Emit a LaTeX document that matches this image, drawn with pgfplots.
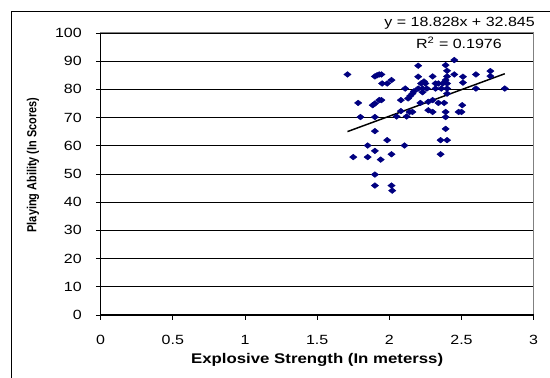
\documentclass[border=0pt]{standalone}
\usepackage{fontspec}
\setmainfont{Liberation Sans}[FakeStretch=1.2]
\newfontfamily\ylabfont{Liberation Sans}
\usepackage{graphicx}
\usepackage{pgfplots}
\pgfplotsset{compat=1.18}
\definecolor{navyblue}{RGB}{0,0,128}
\begin{document}
\fontsize{10pt}{12pt}\selectfont
\begin{tikzpicture}
\useasboundingbox (0,0) rectangle (412.5pt,283.5pt);
\fill[white] (0,0) rectangle (412.5pt,283.5pt);
\draw[black, line width=0.75pt] (8.25pt,0) -- (8.25pt,274.5pt) -- (412.5pt,274.5pt);
\begin{axis}[
  at={(75.5pt,47.25pt)}, anchor=south west,
  scale only axis, width=324.75pt, height=211.5pt,
  xmin=0, xmax=3, ymin=0, ymax=100,
  xtick={0,0.5,1,1.5,2,2.5,3},
  xticklabels={0,0.5,1,1.5,2,2.5,3},
  ytick={0,10,...,100},
  /pgf/number format/assume math mode=true,
  tick align=outside, major tick length=3.5pt,
  xtick pos=lower, ytick pos=left,
  tick style={black, line width=0.6pt},
  ymajorgrids, grid style={black, line width=0.6pt},
  axis line style={gray, line width=0.75pt},
  xticklabel style={inner sep=0pt, anchor=center, yshift=-15pt, font=\fontsize{10pt}{12pt}\selectfont},
  yticklabel style={inner sep=0pt, anchor=east, xshift=-10.5pt, font=\fontsize{10pt}{12pt}\selectfont},
  xlabel={Explosive Strength (In meterss)},
  xlabel style={at={(rel axis cs:0.5,0)}, anchor=center, yshift=-33.75pt, font=\fontsize{10.5pt}{12pt}\selectfont\bfseries},
  ylabel={\scalebox{1}[1.2]{Playing Ability (In Scores)}},
  ylabel style={at={(rel axis cs:0,0.532)}, anchor=center, yshift=50.8pt, font=\ylabfont\fontsize{8.2pt}{10pt}\selectfont\bfseries},
  clip=false,
]
\addplot[only marks, mark=diamond*, mark size=2.1pt, mark options={xscale=1.7, fill=navyblue, draw=navyblue}, color=navyblue] coordinates {
(2.45,90.4) (2.20,88.4) (2.39,88.6) (2.40,86.6) (1.71,85.3)
(1.90,84.6) (1.915,85.0) (1.93,85.3) (1.945,85.3) (2.20,84.5)
(2.30,84.6) (2.40,84.6) (2.45,85.3) (2.51,84.5) (2.60,85.3)
(2.70,86.5) (2.70,84.7) (2.015,83.3) (1.95,82.1) (1.985,82.1)
(2.39,83.3)
(2.22,82.1) (2.24,82.8) (2.25,82.1) (2.32,82.1) (2.34,82.1)
(2.37,82.1) (2.40,82.1) (2.51,82.4)
(2.11,80.3) (2.17,79.3) (2.20,80.3) (2.23,80.3) (2.26,80.3)
(2.32,80.3) (2.36,80.3) (2.40,80.3) (2.60,80.3) (2.80,80.3)
(2.40,78.5) (2.23,79.0) (2.16,78.5) (2.145,77.7) (2.13,76.8)
(1.93,76.2) (1.945,76.2) (2.08,76.2) (2.30,76.2) (2.215,75.2)
(2.34,75.2) (2.38,75.2) (2.505,74.4) (1.784,75.2) (1.885,74.4)
(1.90,75.0) (2.27,75.6)
(2.14,72.0) (2.16,72.0) (2.08,72.3) (2.30,72.0) (2.27,72.6)
(2.39,72.0) (2.48,72.0) (2.50,72.0)
(1.80,70.2) (1.90,70.2) (2.05,70.4) (2.12,70.4) (2.39,70.2)
(1.90,65.2) (2.39,66.0) (1.985,62.0) (2.355,62.0) (2.40,62.0)
(1.85,60.1) (2.105,60.1) (1.90,58.2) (1.75,56.0) (1.85,56.0)
(1.94,55.1) (2.015,57.0) (2.355,57.0) (1.90,49.8) (1.90,45.9)
(2.015,45.9) (2.02,44.1)
};
\addplot[black, line width=1.1pt, no marks] coordinates {(1.71,65.04) (2.80,85.56)};
\draw[black, line width=0.75pt] (axis cs:0,100) -- (axis cs:0,0) -- (axis cs:3,0);
\end{axis}
\node[anchor=mid east, inner sep=0pt, font=\fontsize{10pt}{12pt}\selectfont] at (401.25pt,266.25pt) {y = 18.828x + 32.845};
\node[anchor=mid east, inner sep=0pt, font=\fontsize{10pt}{12pt}\selectfont] at (376.5pt,249.75pt) {R\textsuperscript{2} = 0.1976};
\end{tikzpicture}
\end{document}
